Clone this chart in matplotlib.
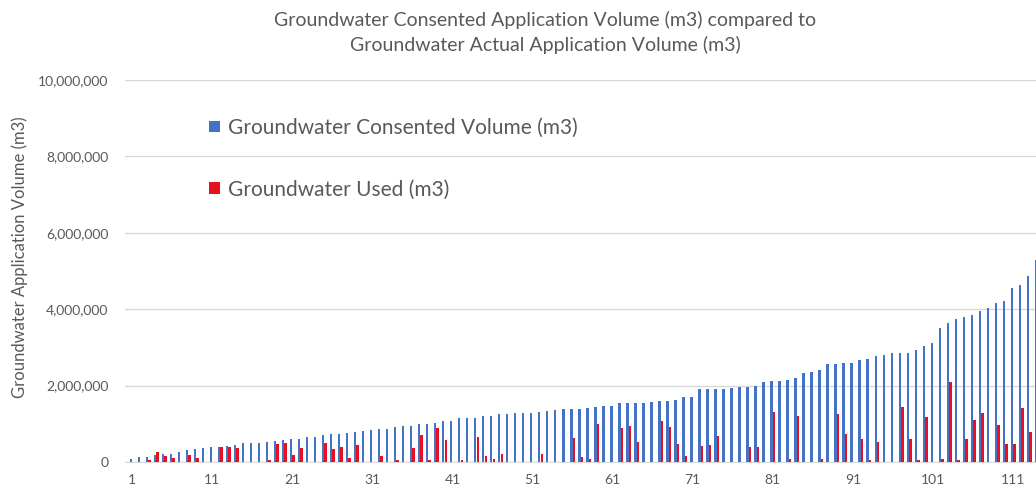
import numpy as np
import matplotlib
matplotlib.use("Agg")
import matplotlib.pyplot as plt
from matplotlib.ticker import FuncFormatter

# values in millions of m3 (categories 1..114)
consented = [0.07, 0.12, 0.13, 0.18, 0.20, 0.21, 0.27, 0.31, 0.34, 0.36,
             0.40, 0.40, 0.42, 0.45, 0.49, 0.49, 0.50, 0.53, 0.55, 0.58,
             0.60, 0.60, 0.66, 0.66, 0.71, 0.72, 0.74, 0.75, 0.78, 0.80,
             0.84, 0.85, 0.87, 0.91, 0.93, 0.95, 0.99, 0.99, 1.01, 1.06,
             1.07, 1.14, 1.14, 1.14, 1.19, 1.20, 1.25, 1.25, 1.29, 1.29,
             1.29, 1.30, 1.32, 1.36, 1.38, 1.39, 1.39, 1.40, 1.45, 1.47,
             1.47, 1.54, 1.54, 1.55, 1.55, 1.58, 1.60, 1.60, 1.62, 1.69,
             1.71, 1.90, 1.90, 1.90, 1.90, 1.93, 1.96, 1.96, 1.99, 2.08,
             2.13, 2.13, 2.15, 2.20, 2.32, 2.36, 2.41, 2.56, 2.56, 2.58,
             2.58, 2.67, 2.70, 2.76, 2.80, 2.85, 2.85, 2.86, 2.93, 3.04,
             3.11, 3.50, 3.63, 3.73, 3.80, 3.85, 3.96, 4.02, 4.15, 4.22,
             4.55, 4.63, 4.88, 5.29]
used = [0, 0, 0.05, 0.25, 0.15, 0.10, 0, 0.18, 0.10, 0,
        0, 0.40, 0.40, 0.36, 0, 0, 0, 0.05, 0.46, 0.49,
        0.17, 0.36, 0, 0, 0.49, 0.33, 0.40, 0.10, 0.44, 0,
        0, 0.16, 0, 0.05, 0, 0.36, 0.71, 0.06, 0.90, 0.57,
        0, 0.05, 0, 0.65, 0.15, 0.08, 0.20, 0, 0, 0,
        0, 0.20, 0, 0, 0, 0.62, 0.12, 0.07, 0.98, 0,
        0, 0.88, 0.94, 0.51, 0, 0, 1.07, 0.91, 0.46, 0.15,
        0, 0.41, 0.45, 0.68, 0, 0, 0, 0.40, 0.40, 0,
        1.30, 0, 0.08, 1.20, 0, 0, 0.08, 0, 1.26, 0.74,
        0, 0.59, 0.04, 0.51, 0, 0, 1.45, 0.60, 0.04, 1.17,
        0, 0.08, 2.10, 0.06, 0.60, 1.10, 1.27, 0, 0.97, 0.47,
        0.47, 1.40, 0.79, 0]
tick_labels = [1, 11, 21, 31, 41, 51, 61, 71, 81, 91, 101, 111]

consented = np.array(consented) * 1e6
used = np.array(used) * 1e6
x = np.arange(1, len(consented) + 1)

plt.rcParams['font.family'] = ['Lato', 'DejaVu Sans']
txt = '#595959'

fig = plt.figure(figsize=(10.36, 4.94), dpi=100)
ax = fig.add_axes([0.1207, 0.065, 0.8793, 0.773])

ax.bar(x - 0.16, consented, width=0.3, color='#4472C4', label='Groundwater Consented Volume (m3)', zorder=3)
ax.bar(x + 0.16, used, width=0.3, color='#E8101E', label='Groundwater Used (m3)', zorder=3)

ax.set_xlim(0.13, 113.85)
ax.set_ylim(0, 10e6)
ax.set_yticks(np.arange(0, 10e6 + 1, 2e6))
ax.yaxis.set_major_formatter(FuncFormatter(lambda v, p: f"{int(v):,}"))
ax.set_xticks(tick_labels)
ax.tick_params(length=0, labelsize=10, colors=txt)
ax.tick_params(axis='y', pad=12)
ax.tick_params(axis='x', pad=9)
ax.grid(axis='y', color='#D9D9D9', linewidth=1, zorder=0)
for s in ['top', 'right', 'left']:
    ax.spines[s].set_visible(False)
ax.spines['bottom'].set_color('#D9D9D9')

ax.legend(loc='upper left', bbox_to_anchor=(0.072, 0.95), frameon=False, fontsize=15,
          labelspacing=2.0, handlelength=0.5, handleheight=0.5, handletextpad=0.4,
          labelcolor=txt)

fig.text(0.526, 0.935, 'Groundwater Consented Application Volume (m3) compared to\n'
         'Groundwater Actual Application Volume (m3)', ha='center', va='center',
         fontsize=14, color=txt, linespacing=1.45)
fig.text(0.019, 0.48, 'Groundwater Application Volume (m3)', rotation=90,
         ha='center', va='center', fontsize=12, color=txt)

fig.savefig('out.png', dpi=100)
